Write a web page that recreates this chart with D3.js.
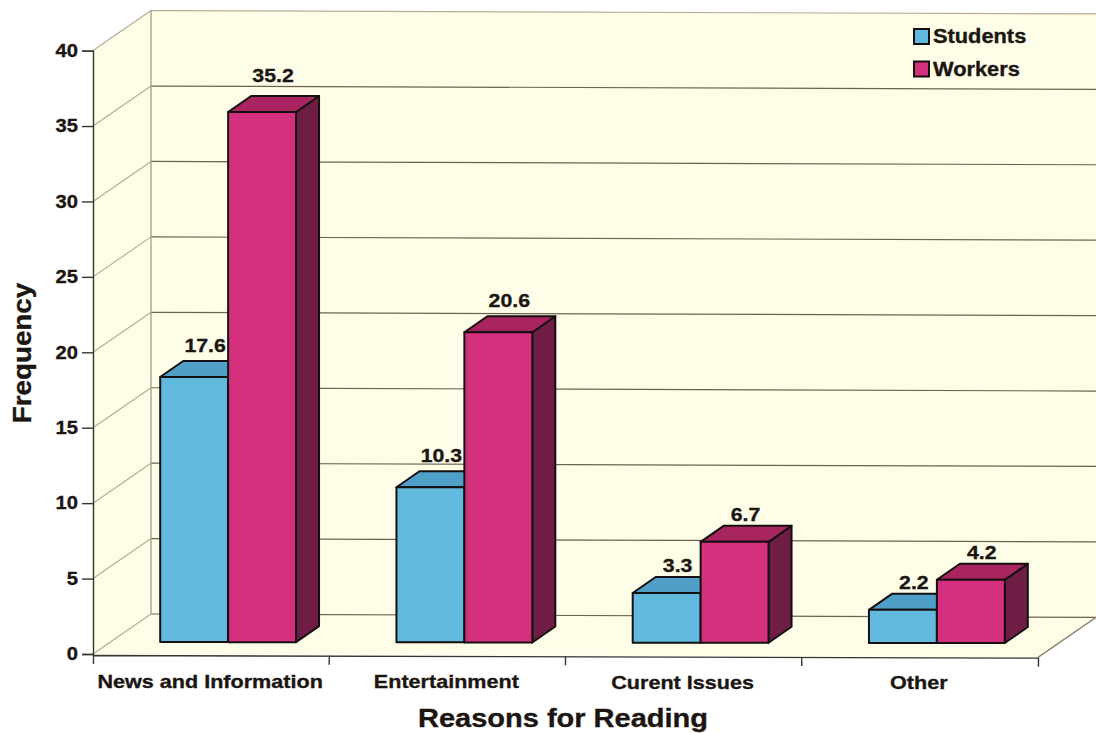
<!DOCTYPE html>
<html>
<head>
<meta charset="utf-8">
<script src="https://cdn.jsdelivr.net/npm/d3@7/dist/d3.min.js"></script>
<style>
html,body{margin:0;padding:0;background:#fff;}
svg{display:block;}
text{font-family:"Liberation Sans",Arial,sans-serif;font-weight:700;fill:#1c1612;stroke:#1c1612;stroke-width:0.35px;}
</style>
</head>
<body>
<svg id="chart" width="1096" height="733"></svg>
<script>
// Reading habits: mean frequency per reason, by respondent group
const categories = ["News and Information", "Entertainment", "Curent Issues", "Other"];
const seriesNames = ["Students", "Workers"];
const students = [17.6, 10.3, 3.3, 2.2];
const workers = [35.2, 20.6, 6.7, 4.2];
const yTicks = [0, 5, 10, 15, 20, 25, 30, 35, 40];

const palette = {
  Students: {front: "#61b9de", top: "#4f9fc9", side: "#3d86ad"},
  Workers: {front: "#d5307e", top: "#a92560", side: "#6f1d45"}
};

const svg = d3.select("#chart");

// Oblique box geometry
const depthX = 58, depthY = -40;       // wall depth offset
const barDx = 23, barDy = -16;         // bar depth offset
const tilt = 0.0035;                   // slight clockwise lean of the whole plot
const plotLeft = 93, plotRight = 1038, plotBase = 654, plotTop = 50.6;

const y = d3.scaleLinear().domain([0, 40]).range([plotBase, plotTop]);
const x = d3.scaleBand().domain(categories).range([plotLeft, plotRight]);
const groupX = d3.scaleBand().domain(categories).range([plotLeft + 17, plotRight + 17])
  .paddingInner(0.425).paddingOuter(0.2125);
const barX = d3.scaleBand().domain(seriesNames).range([0, groupX.bandwidth()]);

// Vertical scale for the bars, whose feet stand a little way in from the front edge
const barBase = 642;
const barY = d3.scaleLinear().domain([0, 40]).range([barBase, barBase - 40 * 15.06]);

const lean = px => (px - plotLeft) * tilt;
const path = pts => "M" + pts.map(p => p[0] + "," + p[1]).join("L") + "Z";

// Broadens bold text horizontally by the given factor
const widen = (sel, k) => sel.each(function () {
  d3.select(this).attr("textLength", this.getComputedTextLength() * k)
    .attr("lengthAdjust", "spacingAndGlyphs");
});

// Walls and floor
const backLeft = plotLeft + depthX, backRight = plotRight + depthX;
const wallFill = "#fdfde8";
svg.append("path").attr("fill", wallFill).attr("d", path([
  [backLeft, plotTop + depthY], [backRight, plotTop + depthY + lean(plotRight)],
  [backRight, plotBase + depthY + lean(plotRight)], [plotRight, plotBase + lean(plotRight)],
  [plotLeft, plotBase], [plotLeft, plotTop]
]));

// Gridlines along back and side walls
const grid = svg.append("g").attr("fill", "none");
yTicks.forEach(t => {
  const gy = y(t);
  grid.append("path").attr("stroke", "#b5ae95").attr("stroke-width", 1.2)
    .attr("d", `M${plotLeft},${gy}L${backLeft},${gy + depthY}`);
  grid.append("path").attr("stroke", t === 40 ? "#b5ae95" : "#6b6450").attr("stroke-width", 1.2)
    .attr("d", `M${backLeft},${gy + depthY}L${backRight},${gy + depthY + lean(plotRight)}`);
});
grid.append("path").attr("stroke", "#a8a18a").attr("stroke-width", 1.4)
  .attr("d", `M${backLeft},${plotTop + depthY}L${backLeft},${plotBase + depthY}`);
grid.append("path").attr("stroke", "#8b8570").attr("stroke-width", 1.4)
  .attr("d", `M${plotRight},${plotBase + lean(plotRight)}L${backRight},${plotBase + depthY + lean(plotRight)}`);

// Bars
const rows = categories.flatMap((c, i) => [
  {cat: c, name: "Students", value: students[i]},
  {cat: c, name: "Workers", value: workers[i]}
]);
const bars = svg.append("g").attr("stroke", "#14100f").attr("stroke-width", 2).attr("stroke-linejoin", "round");
const bar = bars.selectAll("g").data(rows).join("g");
const corners = d => {
  const x0 = groupX(d.cat) + barX(d.name), x1 = x0 + barX.bandwidth();
  const shift = lean(x0) * 0.35;
  return {x0, x1, y0: barBase + shift, y1: barY(d.value) + shift};
};
bar.append("path").attr("fill", d => palette[d.name].side).attr("d", d => {
  const c = corners(d);
  return path([[c.x1, c.y0], [c.x1 + barDx, c.y0 + barDy], [c.x1 + barDx, c.y1 + barDy], [c.x1, c.y1]]);
});
bar.append("path").attr("fill", d => palette[d.name].top).attr("d", d => {
  const c = corners(d);
  return path([[c.x0, c.y1], [c.x0 + barDx, c.y1 + barDy], [c.x1 + barDx, c.y1 + barDy], [c.x1, c.y1]]);
});
bar.append("rect").attr("fill", d => palette[d.name].front)
  .attr("x", d => corners(d).x0).attr("y", d => corners(d).y1)
  .attr("width", barX.bandwidth()).attr("height", d => corners(d).y0 - corners(d).y1);

// Value labels above each bar: taller bars carry theirs a little higher
const labelGap = v => v > 30 ? 14 : v > 10 ? 9 : 5;
svg.append("g").selectAll("text").data(rows).join("text")
  .attr("text-anchor", "middle").attr("font-size", 19)
  .attr("x", d => corners(d).x0 + barX.bandwidth() / 2 + 11)
  .attr("y", d => corners(d).y1 + barDy - labelGap(d.value))
  .text(d => d.value.toFixed(1))
  .call(widen, 1.12);

// Vertical axis
const yAxis = svg.append("g").attr("transform", `translate(${plotLeft},0)`)
  .call(d3.axisLeft(y).tickValues(yTicks).tickSize(11).tickPadding(4).tickFormat(d3.format("d")));
yAxis.attr("font-family", null).attr("font-size", null);
yAxis.selectAll("text").attr("font-size", 18).attr("fill", null).call(widen, 1.12);
yAxis.selectAll("path,line").attr("stroke", "#3a342c").attr("stroke-width", 1.4);

// Category axis, leaning with the floor
const xAxis = svg.append("g").attr("transform", `translate(0,${plotBase + 1}) rotate(${Math.atan(tilt * 0.8) * 180 / Math.PI},${plotLeft},0)`)
  .call(d3.axisBottom(x).tickSizeOuter(9).tickSizeInner(0).tickFormat(() => ""));
xAxis.selectAll("path").attr("stroke", "#3a342c").attr("stroke-width", 1.4).attr("fill", "none");
xAxis.selectAll(".tick").remove();
xAxis.selectAll("line.sep").data(categories.slice(1)).join("line").attr("class", "sep")
  .attr("x1", d => x(d)).attr("x2", d => x(d)).attr("y1", 0).attr("y2", 9)
  .attr("stroke", "#3a342c").attr("stroke-width", 1.4);

// Category names sit under their bands
svg.append("g").selectAll("text").data(categories).join("text")
  .attr("text-anchor", "middle").attr("font-size", 19)
  .attr("x", d => x(d) + x.bandwidth() / 2 - 1)
  .attr("y", d => 688 + lean(x(d)) * 0.5)
  .text(d => d)
  .call(widen, 1.136);

// Axis titles
svg.append("text").attr("text-anchor", "middle").attr("font-size", 26)
  .attr("x", 563).attr("y", 727).text("Reasons for Reading").call(widen, 1.115);
svg.append("text").attr("text-anchor", "middle").attr("font-size", 25)
  .attr("transform", "translate(31,353) rotate(-90)").text("Frequency").call(widen, 1.11);

// Legend
const legend = svg.append("g").selectAll("g").data(seriesNames).join("g")
  .attr("transform", (d, i) => `translate(914,${29 + i * 32.5})`);
legend.append("rect").attr("width", 15).attr("height", 15)
  .attr("fill", d => palette[d].front).attr("stroke", "#14100f").attr("stroke-width", 2);
legend.append("text").attr("x", 19).attr("y", 14).attr("font-size", 20).text(d => d).call(widen, 1.09);
</script>
</body>
</html>
